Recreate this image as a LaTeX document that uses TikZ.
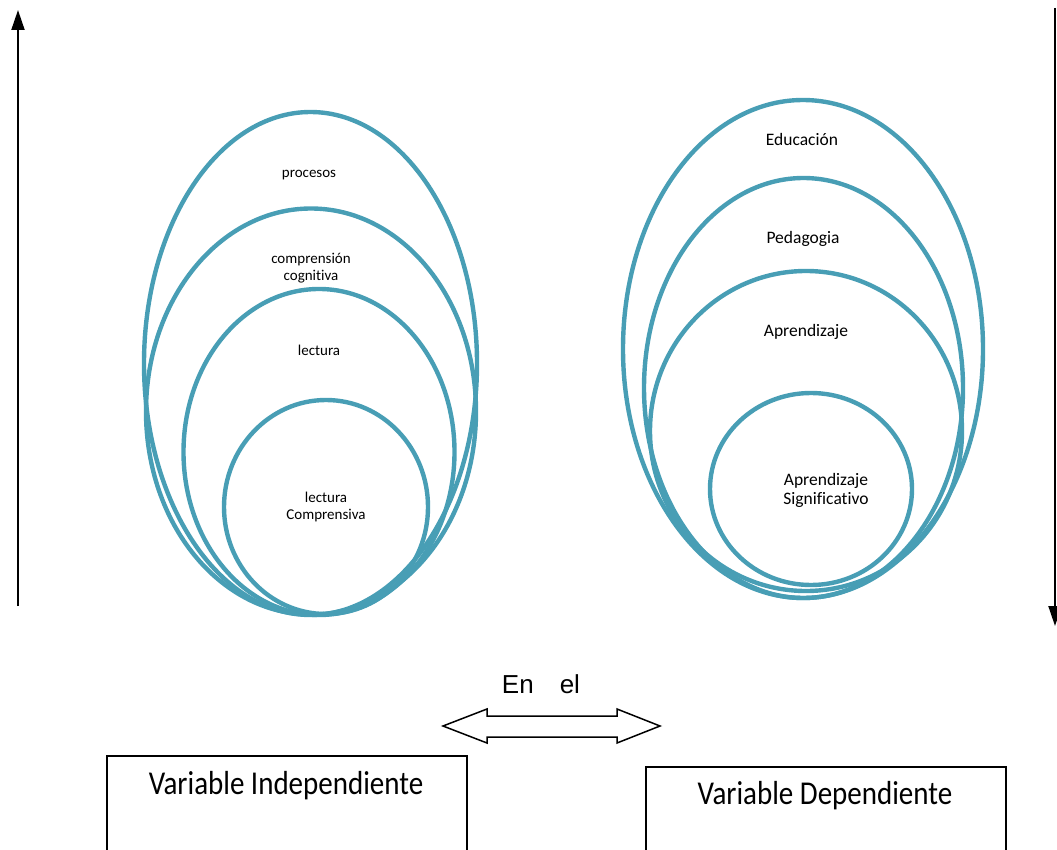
\documentclass[tikz,border=0pt]{standalone}
\usepackage{fontspec}
\usepackage{graphicx}
\setmainfont{Carlito}[Ligatures=NoCommon]
\newfontfamily\arialf{Liberation Sans}
\usetikzlibrary{arrows.meta}
\definecolor{ringblue}{RGB}{72,158,181}
\newcommand{\tallt}[1]{\scalebox{1}[1.15]{#1}}
\tikzset{
  ring/.style={draw=ringblue, line width=4.4pt},
  lbl/.style={align=center, inner sep=0pt, font=\fontsize{15}{17}\selectfont},
  lblr/.style={align=center, inner sep=0pt, font=\fontsize{17.5}{19}\selectfont},
  axis/.style={line width=2pt, -{Triangle[length=20pt,width=13pt]}},
  varbox/.style={draw=black, line width=1.8pt, minimum width=360pt, minimum height=140pt, inner sep=0pt},
  vartxt/.style={inner sep=0pt, font=\fontsize{29}{31}\selectfont},
  dblarrow/.style={draw=black, line width=1.5pt, fill=white}
}
\begin{document}
\begin{tikzpicture}[x=1pt,y=-1pt]
\useasboundingbox (0,0) rectangle (1057,850);

% left axis arrow (up) and right axis arrow (down)
\coordinate (la0) at (18,606);
\coordinate (la1) at (18,10);
\draw[axis] (la0) -- (la1);
\coordinate (ra0) at (1055,8);
\coordinate (ra1) at (1055,626);
\draw[axis] (ra0) -- (ra1);

% left group of ellipses
\draw[ring] (310.5,363.5) ellipse [x radius=166.5, y radius=251.5];
\draw[ring] (311,411.5) ellipse [x radius=165, y radius=203];
\draw[ring] (319,452) ellipse [x radius=135.5, y radius=163];
\draw[ring] (326,507) ellipse [x radius=102, y radius=107];

\node[lbl] (procesos) at (309,175) {procesos};
\node[lbl] (comp) at (311,268) {comprensión\\cognitiva};
\node[lbl] (lect) at (319,350) {lectura};
\node[lbl] (lectc) at (326,507) {lectura\\Comprensiva};

% right group of ellipses
\draw[ring] (803,349) ellipse [x radius=180, y radius=249];
\draw[ring] (803.5,388) ellipse [x radius=159.5, y radius=210];
\draw[ring] (806,431) ellipse [x radius=156, y radius=160];
\draw[ring] (811,489) ellipse [x radius=101, y radius=96];

\node[lblr] (edu) at (802,139) {Educación};
\node[lblr] (ped) at (803,239) {Pedagogia};
\node[lblr] (apr) at (806,332) {Aprendizaje};
\node[lblr] (aprs) at (826,490) {Aprendizaje\\Significativo};

% "En el" and double arrow
\node[inner sep=0pt, font=\arialf\fontsize{26}{28}\selectfont] (enel) at (541,684) {En\hspace{26pt}el};
\draw[dblarrow] (443,726) -- (487,709) -- (487,716) -- (617,716) -- (617,709) -- (660,726)
  -- (617,743) -- (617,737) -- (487,737) -- (487,743) -- cycle;

% boxes
\node[varbox, anchor=north west] (vibox) at (106,755) {};
\node[vartxt] (vi) at (286,786) {\tallt{Variable Independiente}};
\node[varbox, anchor=north west] (vdbox) at (645,766) {};
\node[vartxt] (vd) at (825,796) {\tallt{Variable Dependiente}};
\end{tikzpicture}
\end{document}
